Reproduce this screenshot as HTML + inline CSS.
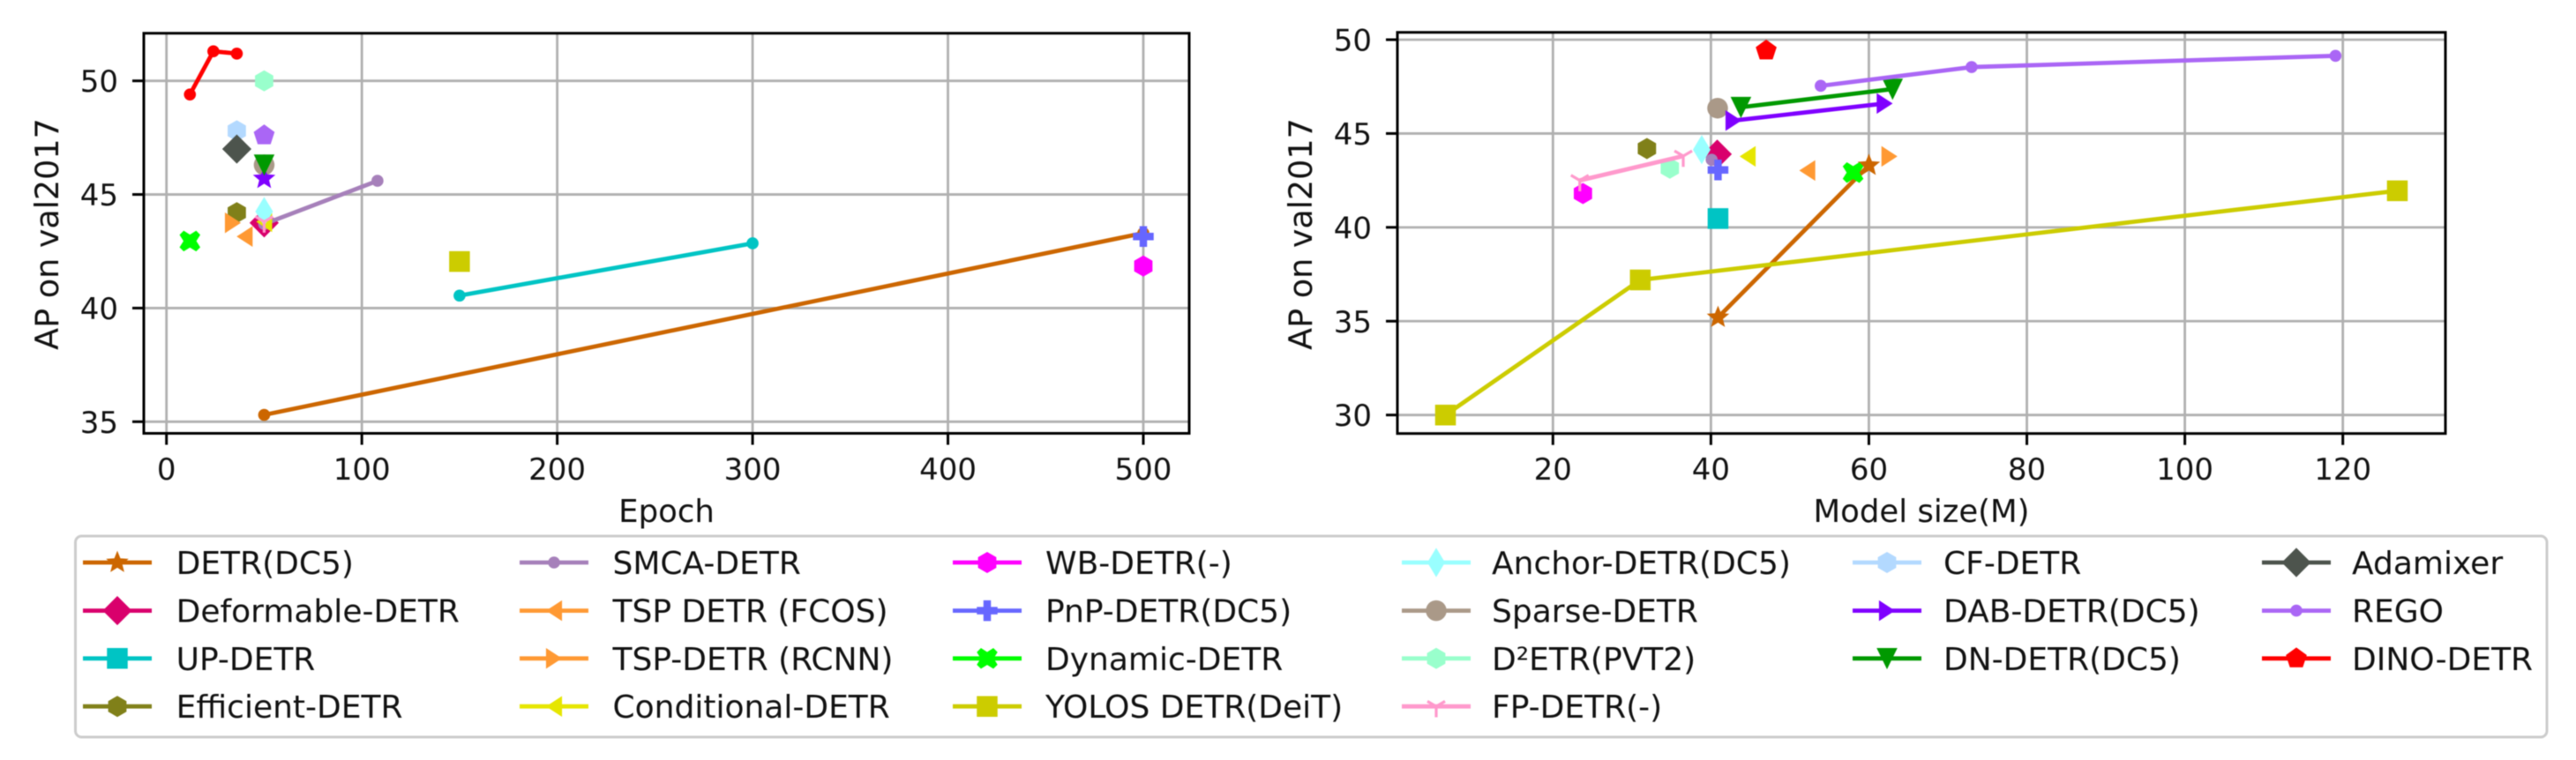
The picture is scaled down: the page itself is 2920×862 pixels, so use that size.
<!DOCTYPE html>
<html lang="en">
<head>
<meta charset="utf-8">
<title>AP on val2017 versus epoch and model size</title>
<style>
html,body{margin:0;padding:0;background:#fff;width:2920px;height:862px;overflow:hidden}
svg{display:block;filter:blur(.5px)}
text{font-family:"DejaVu Sans","Liberation Sans",sans-serif;fill:#111}
</style>
</head>
<body>
<svg id="figure" xmlns="http://www.w3.org/2000/svg" width="2920" height="862" viewBox="0 0 2920 862"></svg>
<script>
const seriesNames=["DETR(DC5)","Deformable-DETR","UP-DETR","Efficient-DETR","SMCA-DETR","TSP DETR (FCOS)","TSP-DETR (RCNN)","Conditional-DETR","WB-DETR(-)","PnP-DETR(DC5)","Dynamic-DETR","YOLOS DETR(DeiT)","Anchor-DETR(DC5)","Sparse-DETR","D²ETR(PVT2)","FP-DETR(-)","CF-DETR","DAB-DETR(DC5)","DN-DETR(DC5)","Adamixer","REGO","DINO-DETR"];
const seriesColors=["#cc6600","#d9006c","#00c4c4","#808019","#a680ba","#ff9933","#ff9933","#e6e600","#ff00ff","#6666ff","#00ff00","#cccc00","#99ffff","#aa9988","#99ffcc","#ff99cc","#b3d9ff","#7f00ff","#009900","#4d544d","#aa66f5","#ff0000"];
const legendMarkers=["star","diamond","square","hexagon","dot","tleft","tright","tleft","hexagon","plus","cross","square","thin","circle","hexagon","tri","hexagon","tright","tdown","diamond","dot","pentagon"];
const epochMarkers=["dot","diamond","dot","hexagon","dot","tleft","tright","tleft","hexagon","plus","cross","square","thin","circle","hexagon","tri","hexagon","star","tdown","diamond","pentagon","dot"];
const sizeMarkers=["star","diamond","square","hexagon","dot","tleft","tright","tleft","hexagon","plus","cross","square","thin","circle","hexagon","tri","hexagon","tright","tdown","diamond","dot","pentagon"];
const epochX=[[50,500],[50],[150,300],[36],[50,108],[40],[34],[50],[500],[500],[12],[150],[50],[50],[50],[50],[36],[50],[50],[36],[50],[12,24,36]];
const epochAP=[[35.3,43.3],[43.75],[40.55,42.85],[44.2],[43.7,45.6],[43.15],[43.75],[43.8],[41.85],[43.15],[42.95],[42.05],[44.25],[46.3],[50.0],[43.8],[47.8],[45.7],[46.3],[47.0],[47.6],[49.4,51.3,51.2]];
const sizeX=[[40.9,60],[40.8],[40.9],[31.9],[40.1],[52.2],[62.6],[44.65],[23.8],[40.9],[58],[6.4,31.06,126.9],[38.84],[40.85],[34.8],[23.4,36.5],[],[42.86,62],[43.8,63],[],[53.9,73,119.07],[47]];
const sizeAP=[[35.2,43.3],[43.9],[40.47],[44.2],[43.6],[43.03],[43.78],[43.78],[41.8],[43.06],[42.92],[30.0,37.2,41.95],[44.14],[46.35],[43.15],[42.5,43.8],[],[45.69,46.6],[46.4,47.37],[],[47.54,48.54,49.14],[49.42]];
const epochTicks=[0,100,200,300,400,500];
const epochAPTicks=[35,40,45,50];
const sizeTicks=[20,40,60,80,100,120];
const sizeAPTicks=[30,35,40,45,50];

const NS="http://www.w3.org/2000/svg";
const fig=document.getElementById("figure");
function mk(tag,attrs,parent){
  const e=document.createElementNS(NS,tag);
  for(const k in attrs)e.setAttribute(k,attrs[k]);
  (parent||fig).appendChild(e);
  return e;
}
function slug(s){return s.toLowerCase().replace(/²/g,"2").replace(/[^a-z0-9]+/g,"-").replace(/^-|-$/g,"");}
const SZ=23.5;
function poly(pts,cx,cy,scale){return pts.map(p=>(cx+p[0]*scale).toFixed(2)+","+(cy+p[1]*scale).toFixed(2)).join(" ");}
function radial(n,r,rot){const a=[];for(let i=0;i<n;i++){const t=rot+i*2*Math.PI/n;a.push([r*Math.cos(t),r*Math.sin(t)]);}return a;}
function starPts(r,inner){const a=[];for(let i=0;i<10;i++){const t=-Math.PI/2+i*Math.PI/5;const q=i%2?inner:r;a.push([q*Math.cos(t),q*Math.sin(t)]);}return a;}
const unitShapes={
  diamond:[[0,-1.41],[1.41,0],[0,1.41],[-1.41,0]],
  thin:[[0,-1.41],[.85,0],[0,1.41],[-.85,0]],
  hexagon:radial(6,1.02,-Math.PI/2),
  pentagon:radial(5,1.06,-Math.PI/2),
  star:starPts(1.14,.5),
  square:[[-1,-1],[1,-1],[1,1],[-1,1]],
  tleft:[[-.77,0],[.77,-1],[.77,1]],
  tright:[[.77,0],[-.77,-1],[-.77,1]],
  tdown:[[-1,-1],[1,-1],[0,1.05]],
  plus:[[-.36,-1],[.36,-1],[.36,-.36],[1,-.36],[1,.36],[.36,.36],[.36,1],[-.36,1],[-.36,.36],[-1,.36],[-1,-.36],[-.36,-.36]],
  cross:[[-1,-.6],[-.6,-1],[0,-.62],[.6,-1],[1,-.6],[.62,0],[1,.6],[.6,1],[0,.62],[-.6,1],[-1,.6],[-.62,0]]
};
function drawMarker(g,shape,cx,cy,color){
  const s=SZ/2;
  if(shape==="circle")return mk("circle",{cx:cx,cy:cy,r:s,fill:color},g);
  if(shape==="dot")return mk("circle",{cx:cx,cy:cy,r:6.8,fill:color},g);
  if(shape==="tri"){
    const p=mk("path",{d:"M"+cx+" "+cy+"V"+(cy+s*1.05)+"M"+cx+" "+cy+"L"+(cx-s*.85)+" "+(cy-s*.5)+"M"+cx+" "+cy+"L"+(cx+s*.85)+" "+(cy-s*.5),stroke:color,"stroke-width":3.2,fill:"none"},g);
    return p;
  }
  return mk("polygon",{points:poly(unitShapes[shape],cx,cy,s),fill:color},g);
}
function linear(d0,p0,d1,p1){return v=>p0+(v-d0)*(p1-p0)/(d1-d0);}

function drawAxes(cfg){
  const g=mk("g",{});
  
  
  const b=cfg.box;
  const bg=mk("rect",{x:b.l,y:b.t,width:b.r-b.l,height:b.b-b.t,fill:"#fff"},g);
  
  
  cfg.xTicks.forEach(v=>{
    const x=cfg.sx(v);
    const gl=mk("line",{x1:x,x2:x,y1:b.t,y2:b.b,stroke:"#b0b0b0","stroke-width":2.8},g);
    
    
  });
  cfg.yTicks.forEach(v=>{
    const y=cfg.sy(v);
    const gl=mk("line",{x1:b.l,x2:b.r,y1:y,y2:y,stroke:"#b0b0b0","stroke-width":2.8},g);
    
    
  });
  seriesNames.forEach((n,i)=>{
    const xs=cfg.xs[i],ys=cfg.ys[i];
    if(!xs.length)return;
    const sg=mk("g",{},g);
    
    
    if(xs.length>1){
      const l=mk("polyline",{points:xs.map((x,k)=>cfg.sx(x).toFixed(2)+","+cfg.sy(ys[k]).toFixed(2)).join(" "),fill:"none",stroke:seriesColors[i],"stroke-width":4.8,"stroke-linejoin":"round"},sg);
      
      
    }
    xs.forEach((x,k)=>{
      const m=drawMarker(sg,cfg.markers[i],cfg.sx(x),cfg.sy(ys[k]),seriesColors[i]);
      
      
    });
  });
  const frame=mk("rect",{x:b.l,y:b.t,width:b.r-b.l,height:b.b-b.t,fill:"none",stroke:"#000","stroke-width":3},g);
  
  
  cfg.xTicks.forEach(v=>{
    const x=cfg.sx(v);
    const t=mk("line",{x1:x,x2:x,y1:b.b,y2:b.b+13,stroke:"#000","stroke-width":3},g);
    
    
    const lb=mk("text",{x:x,y:544,"text-anchor":"middle","font-size":34},g);
    lb.textContent=v;
    
    
  });
  cfg.yTicks.forEach(v=>{
    const y=cfg.sy(v);
    const t=mk("line",{x1:b.l-13,x2:b.l,y1:y,y2:y,stroke:"#000","stroke-width":3},g);
    
    
    const lb=mk("text",{x:b.l-29,y:y+12.5,"text-anchor":"end","font-size":34},g);
    lb.textContent=v;
    
    
  });
  const xt=mk("text",{x:(b.l+b.r)/2,y:592,"text-anchor":"middle","font-size":35.5},g);
  xt.textContent=cfg.xTitle;
  
  
  const yt=mk("text",{x:0,y:0,"text-anchor":"middle","font-size":36.5,transform:"translate("+cfg.yTitleX+",265.5) rotate(-90)"},g);
  yt.textContent="AP on val2017";
  
  
}

drawAxes({name:"epoch-chart",box:{l:163,r:1348,t:37.7,b:491.5},
  sx:linear(0,188.7,500,1296),sy:linear(35,478.3,50,91.7),
  xTicks:epochTicks,yTicks:epochAPTicks,xs:epochX,ys:epochAP,markers:epochMarkers,
  xTitle:"Epoch",yTitleX:66});
drawAxes({name:"model-size-chart",box:{l:1584,r:2772,t:36.7,b:491.7},
  sx:linear(20,1760.3,120,2655.7),sy:linear(30,470.7,50,45),
  xTicks:sizeTicks,yTicks:sizeAPTicks,xs:sizeX,ys:sizeAP,markers:sizeMarkers,
  xTitle:"Model size(M)",yTitleX:1487});

const legend=mk("g",{});


const lf=mk("rect",{x:85.5,y:608,width:2801.5,height:228,rx:7,ry:7,fill:"#fff",stroke:"#cccccc","stroke-width":3},legend);


const legendHandleX=[94,589,1080,1589,2100,2564];
const legendTextX=[199.6,694.5,1185,1691,2203,2666];
const legendRowY=[638,692.6,746.8,801.2];
const legendColumnCounts=[4,4,4,4,3,3];
let legendIndex=0;
legendColumnCounts.forEach((count,c)=>{
  for(let r=0;r<count;r++){
    const i=legendIndex++;
    const y=legendRowY[r];
    const en=mk("g",{},legend);
    
    
    mk("line",{x1:legendHandleX[c],x2:legendHandleX[c]+78,y1:y,y2:y,stroke:seriesColors[i],"stroke-width":4.8},en);
    drawMarker(en,legendMarkers[i],legendHandleX[c]+39,y,seriesColors[i]);
    const t=mk("text",{x:legendTextX[c],y:y+13,"font-size":36},en);
    t.textContent=seriesNames[i];
  }
});
</script>
</body>
</html>
